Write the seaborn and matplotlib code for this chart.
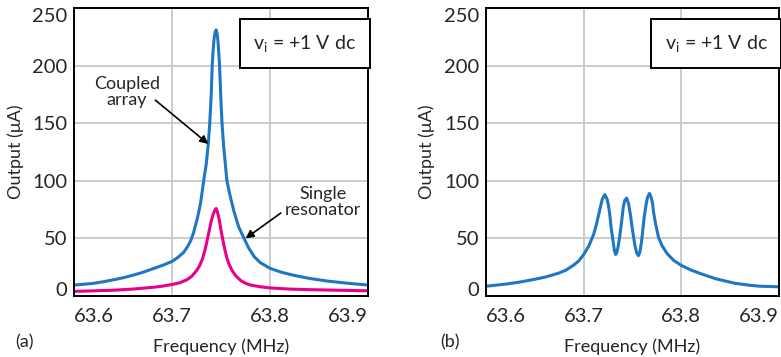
import matplotlib
matplotlib.use("Agg")
import matplotlib.pyplot as plt
import pandas as pd
import seaborn as sns

# ---------------------------------------------------------------------------
# Data (frequency in MHz, output in uA)
# ---------------------------------------------------------------------------
coupled_freq = [63.600, 63.610, 63.620, 63.630, 63.640, 63.650, 63.660, 63.670,
                63.680, 63.690, 63.700, 63.706, 63.712, 63.716, 63.719, 63.722,
                63.726, 63.729, 63.731, 63.733, 63.735, 63.737, 63.7385, 63.740,
                63.741, 63.742, 63.743, 63.744, 63.745, 63.746, 63.747, 63.748,
                63.7485, 63.750, 63.751, 63.752, 63.753, 63.756, 63.759, 63.763,
                63.768, 63.7735, 63.778, 63.784, 63.790, 63.800, 63.812, 63.824,
                63.840, 63.858, 63.880, 63.900]
coupled_out = [9.5, 10.2, 11, 12.4, 14, 15.8, 18, 20.5,
               23.5, 26.5, 30, 33.5, 38, 43, 48, 55,
               68, 80, 92, 104, 115, 132, 150, 175,
               200, 214, 224, 229, 231, 228, 220, 207,
               200, 168, 150, 138, 127, 100, 88, 74,
               60, 50, 42, 34, 29, 24, 20.5, 18,
               15.3, 13, 11, 9.5]

single_freq = [63.600, 63.620, 63.640, 63.660, 63.680, 63.690, 63.700, 63.708,
               63.715, 63.720, 63.725, 63.728, 63.731, 63.734, 63.737, 63.740,
               63.742, 63.744, 63.745, 63.746, 63.748, 63.750, 63.752, 63.754,
               63.756, 63.758, 63.761, 63.765, 63.770, 63.775, 63.780, 63.790,
               63.800, 63.820, 63.840, 63.870, 63.900]
single_out = [4, 4.5, 5, 6, 7.5, 8.5, 10, 11.5,
              14, 17, 22, 26, 32, 41, 53, 65,
              71, 75, 76, 74, 67, 57, 48, 40,
              33, 28, 22.5, 17.5, 13.5, 11, 9.5, 8,
              7, 6, 5.5, 5, 4.5]

array_freq = [63.600, 63.620, 63.634, 63.650, 63.661, 63.675, 63.682, 63.690,
              63.695, 63.700, 63.705, 63.710, 63.713, 63.7165, 63.719, 63.7216,
              63.724, 63.7255, 63.7268, 63.728, 63.730, 63.7315, 63.7327, 63.734,
              63.7355, 63.7371, 63.739, 63.7405, 63.742, 63.744, 63.746, 63.7481,
              63.750, 63.7526, 63.7545, 63.756, 63.7575, 63.7592, 63.7605, 63.762,
              63.764, 63.7655, 63.7673, 63.769, 63.7705, 63.7715, 63.7735, 63.7766,
              63.780, 63.7852, 63.792, 63.800, 63.810, 63.821, 63.835, 63.855,
              63.870, 63.880, 63.900]
array_out = [8.5, 10.3, 12, 14.5, 16.5, 20, 22.5, 27,
             30.5, 36, 43, 53, 62, 75, 84, 88,
             84, 78, 70, 60, 48, 39, 36, 38,
             44, 53, 66, 77, 83, 85, 80, 69,
             57, 43, 37, 35, 38, 47, 57, 69,
             80, 86, 89, 86, 80, 73, 63, 51,
             44, 37, 31, 26.5, 22.5, 19, 15, 11,
             9.3, 8.5, 8]

x_ticks = [63.6, 63.7, 63.8, 63.9]
y_ticks = [0, 50, 100, 150, 200, 250]

BLUE = "#1f77c4"
PINK = "#e8008a"
FONT = ["Lato", "DejaVu Sans"]

sns.set_style("white")
plt.rcParams["font.family"] = FONT
plt.rcParams["mathtext.fontset"] = "custom"
plt.rcParams["mathtext.rm"] = "Lato"
plt.rcParams["mathtext.it"] = "Lato"


def style_axes(ax, panel, panel_x):
    ax.set_xlim(63.6, 63.9)
    ax.set_ylim(0, 250)
    ax.set_xticks(x_ticks)
    ax.set_yticks(y_ticks)
    ax.set_xticklabels([f"{t:.1f}" for t in x_ticks])
    ax.grid(True, color="#c8c8c8", linewidth=1.3)
    ax.set_axisbelow(True)
    for s in ax.spines.values():
        s.set_color("black")
        s.set_linewidth(1.4)
    ax.tick_params(length=0, labelsize=14.5)
    ax.tick_params(axis="x", pad=9)
    ax.tick_params(axis="y", pad=5)
    # end labels sit inside the axis span, as in the reference
    xl = ax.get_xticklabels()
    xl[0].set_ha("left")
    xl[-1].set_ha("right")
    yl = ax.get_yticklabels()
    yl[0].set_va("baseline")
    yl[-1].set_va("top")
    ax.set_xlabel("Frequency (MHz)", fontsize=13, labelpad=9)
    ax.set_ylabel("Output (\u03bcA)", fontsize=13, labelpad=6)
    ax.text(panel_x, -0.16, panel, transform=ax.transAxes, fontsize=13,
            ha="center", va="center")
    ax.text(0.785, 0.877, r"v$_\mathrm{i}$ = +1 V dc", transform=ax.transAxes,
            fontsize=14, ha="center", va="center",
            bbox=dict(boxstyle="square,pad=0.7", fc="white", ec="black", lw=1.4))


fig = plt.figure(figsize=(7.81, 3.57), dpi=100)
ax_a = fig.add_axes([0.0948, 0.1709, 0.3764, 0.8067])
ax_b = fig.add_axes([0.6223, 0.1709, 0.3752, 0.8067])

df_c = pd.DataFrame({"freq": coupled_freq, "out": coupled_out})
df_s = pd.DataFrame({"freq": single_freq, "out": single_out})
df_b = pd.DataFrame({"freq": array_freq, "out": array_out})

sns.lineplot(data=df_s, x="freq", y="out", ax=ax_a, color=PINK, linewidth=2.2)
sns.lineplot(data=df_c, x="freq", y="out", ax=ax_a, color=BLUE, linewidth=2.2)
sns.lineplot(data=df_b, x="freq", y="out", ax=ax_b, color=BLUE, linewidth=2.2)

style_axes(ax_a, "(a)", -0.17)
style_axes(ax_b, "(b)", -0.123)

ax_a.text(63.654, 177, "Coupled\narray", fontsize=13, ha="center", va="center",
          linespacing=0.95)
ax_a.annotate("", xy=(63.737, 132), xytext=(63.683, 170),
              arrowprops=dict(arrowstyle="-|>", color="black", lw=1.2,
                              mutation_scale=12, shrinkA=0, shrinkB=0))
ax_a.text(63.854, 81.5, "Single\nresonator", fontsize=13, ha="center", va="center",
          linespacing=0.95)
ax_a.annotate("", xy=(63.775, 50), xytext=(63.811, 72),
              arrowprops=dict(arrowstyle="-|>", color="black", lw=1.2,
                              mutation_scale=12, shrinkA=0, shrinkB=0))

fig.savefig("out.png", dpi=100)
